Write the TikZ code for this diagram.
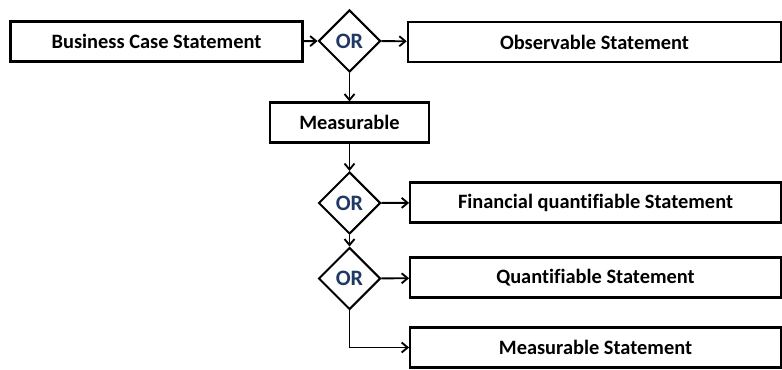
\documentclass[tikz,border=0pt]{standalone}
\usepackage{fontspec}
\setmainfont{Carlito}[Ligatures=NoCommon]
\usetikzlibrary{shapes.geometric, arrows.meta, positioning}
\definecolor{ornavy}{RGB}{31,56,100}

\begin{document}
\begin{tikzpicture}[x=0.75pt, y=-0.75pt, >={Straight Barb[length=4.5pt,width=7.5pt]},
		font=\fontsize{15.3}{18}\selectfont\bfseries,
		stmt/.style={draw, rectangle, line width=1.6pt, fill=white, minimum height=30pt, inner sep=0pt},
		orgate/.style={draw, diamond, aspect=1, line width=1.5pt, fill=white, minimum size=46.5pt, inner sep=0pt, text=ornavy, font=\fontsize{16.5}{19}\selectfont\bfseries},
		link/.style={->, line width=1.4pt}]
				\useasboundingbox (0, 0) rectangle (782, 370);
				\node[stmt, minimum width=219pt] (biz) at (156.5, 41.5) {Business Case Statement};
				\node[orgate] (or1) at (349.5, 41) {OR};
				\node[stmt, minimum width=280pt] (obs) at (594.5, 42) {Observable Statement};
				
				\node[stmt, minimum width=119pt] (meas) at (349.5, 122.5) {Measurable};
				
				\node[orgate] (or2) at (349.5, 203) {OR};
				\node[stmt, minimum width=278pt] (fin) at (595.5, 202.5) {Financial quantifiable Statement};
				
				\node[orgate] (or3) at (349.5, 278.5) {OR};
				\node[stmt, minimum width=278pt] (quant) at (595.5, 277.5) {Quantifiable Statement};
				\node[stmt, minimum width=278pt] (mstat) at (595.5, 347.5) {Measurable Statement};
				
				\draw[link] (biz) -- (or1);
				\draw[link] (or1) -- (obs);
				\draw[link] (or1) -- (meas);
				\draw[link] (meas) -- (or2);
				\draw[link] (or2) -- (fin);
				\draw[link] (or2) -- (or3);
				\draw[link] (or3) -- (quant);
				\draw[link] (or3.south) |- (mstat);
			\end{tikzpicture}
\end{document}
